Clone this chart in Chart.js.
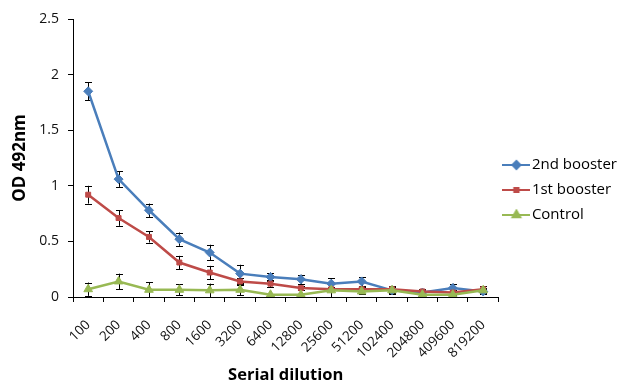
<!DOCTYPE html>
<html>
<head>
<meta charset="utf-8">
<script src="https://cdn.jsdelivr.net/npm/chart.js@4"></script>
<style>
    body { margin: 0; background: #fff; }
    #wrap { width: 627px; height: 385px; position: relative; }
</style>
</head>
<body>
<div id="wrap"><canvas id="odChart"></canvas></div>
<script>
// dilution categories
var dilutions = ['100', '200', '400', '800', '1600', '3200', '6400', '12800', '25600', '51200', '102400', '204800', '409600', '819200'];

// mean OD values
var secondBooster = [1.85, 1.06, 0.78, 0.52, 0.40, 0.21, 0.18, 0.16, 0.12, 0.14, 0.06, 0.04, 0.08, 0.05];
var firstBooster = [0.92, 0.71, 0.54, 0.31, 0.22, 0.14, 0.12, 0.08, 0.07, 0.07, 0.07, 0.05, 0.04, 0.07];
var control = [0.07, 0.14, 0.065, 0.065, 0.06, 0.065, 0.02, 0.02, 0.06, 0.05, 0.06, 0.02, 0.02, 0.06];

// error bar half widths
var secondErr = [0.08, 0.07, 0.06, 0.06, 0.07, 0.08, 0.04, 0.04, 0.05, 0.04, 0.03, 0.02, 0.04, 0.02];
var firstErr = [0.08, 0.07, 0.05, 0.06, 0.06, 0.03, 0.03, 0.02, 0.02, 0.02, 0.03, 0.02, 0.02, 0.03];
var controlErr = [0.06, 0.07, 0.07, 0.05, 0.06, 0.05, 0.01, 0.01, 0.06, 0.02, 0.03, 0.01, 0.01, 0.02];

var yTicks = [0, 0.5, 1, 1.5, 2, 2.5];

var FONT = "'Open Sans', sans-serif";

// small line+marker picture for the legend (Excel style)
function legendIcon(color, style, radius) {
    var c = document.createElement('canvas');
    c.width = 28;
    c.height = 12;
    var g = c.getContext('2d');
    g.strokeStyle = color;
    g.lineWidth = 2;
    g.beginPath();
    g.moveTo(0, 6);
    g.lineTo(28, 6);
    g.stroke();
    g.fillStyle = color;
    Chart.helpers.drawPoint(g, { pointStyle: style, radius: radius, borderWidth: 1 }, 14, 6);
    return c;
}

// draws the black error bars from the data arrays
var errorBars = {
    id: 'errorBars',
    beforeDatasetsDraw: function (chart) {
        var ctx = chart.ctx;
        var yScale = chart.scales.y;
        ctx.save();
        ctx.strokeStyle = '#000';
        ctx.lineWidth = 1;
        chart.data.datasets.forEach(function (ds, i) {
            var meta = chart.getDatasetMeta(i);
            meta.data.forEach(function (pt, j) {
                var v = ds.data[j];
                var e = ds.errors[j];
                var x = Math.round(pt.x) + 0.5;
                var top = yScale.getPixelForValue(v + e);
                var bot = yScale.getPixelForValue(Math.max(v - e, 0));
                ctx.beginPath();
                ctx.moveTo(x, top);
                ctx.lineTo(x, bot);
                ctx.moveTo(x - 3.5, Math.round(top) + 0.5);
                ctx.lineTo(x + 3.5, Math.round(top) + 0.5);
                ctx.moveTo(x - 3.5, Math.round(bot) + 0.5);
                ctx.lineTo(x + 3.5, Math.round(bot) + 0.5);
                ctx.stroke();
            });
        });
        ctx.restore();
    }
};

// legend sits a bit above the vertical middle, like the Excel original
var legendLift = {
    id: 'legendLift',
    afterLayout: function (chart) {
        if (chart.legend) {
            chart.legend.bottom -= 24;
            chart.legend.height -= 24;
        }
    }
};

var series = [
    { label: '2nd booster', data: secondBooster, errors: secondErr, color: '#4A7EBB', style: 'rectRot', r: 4.5, order: 3 },
    { label: '1st booster', data: firstBooster, errors: firstErr, color: '#BE4B48', style: 'rect', r: 3.5, order: 2 },
    { label: 'Control', data: control, errors: controlErr, color: '#98B954', style: 'triangle', r: 5, order: 1 }
];

var datasets = series.map(function (s) {
    return {
        label: s.label,
        data: s.data,
        errors: s.errors,
        borderColor: s.color,
        backgroundColor: s.color,
        borderWidth: 2.5,
        pointStyle: s.style,
        pointRadius: s.r,
        pointBorderWidth: 1,
        pointBackgroundColor: s.color,
        pointBorderColor: s.color,
        tension: 0,
        order: s.order,
        icon: legendIcon(s.color, s.style, s.r - 0.5)
    };
});

var ctx = document.getElementById('odChart').getContext('2d');
var odChart = new Chart(ctx, {
    type: 'line',
    data: { labels: dilutions, datasets: datasets },
    plugins: [errorBars, legendLift],
    options: {
        responsive: true,
        maintainAspectRatio: false,
        animation: false,
        layout: { padding: { top: 19, right: 0, bottom: 0, left: 0 } },
        plugins: {
            tooltip: { enabled: false },
            legend: {
                position: 'right',
                labels: {
                    usePointStyle: true,
                    pointStyleWidth: 16,
                    padding: 10,
                    color: '#000',
                    font: { family: FONT, size: 15 },
                    generateLabels: function (chart) {
                        return chart.data.datasets.map(function (ds, i) {
                            return {
                                text: ds.label,
                                pointStyle: ds.icon,
                                fillStyle: ds.borderColor,
                                strokeStyle: ds.borderColor,
                                lineWidth: 0,
                                hidden: false,
                                datasetIndex: i
                            };
                        });
                    }
                }
            }
        },
        scales: {
            x: {
                offset: true,
                grid: { offset: true, drawOnChartArea: false, drawTicks: true, tickLength: 5, color: '#000' },
                border: { display: true, color: '#000', width: 1 },
                ticks: {
                    minRotation: 45,
                    maxRotation: 45,
                    padding: 15,
                    color: '#111',
                    font: { family: FONT, size: 13.5 }
                },
                title: {
                    display: true,
                    text: 'Serial dilution',
                    color: '#000',
                    font: { family: FONT, size: 16.5, weight: 'bold' },
                    padding: { top: 0, bottom: 0 }
                },
                afterFit: function (scale) { scale.height = 88; }
            },
            y: {
                min: 0,
                max: 2.5,
                afterBuildTicks: function (scale) {
                    scale.ticks = yTicks.map(function (v) { return { value: v }; });
                },
                grid: { drawOnChartArea: false, drawTicks: true, tickLength: 5, color: '#000' },
                border: { display: true, color: '#000', width: 1 },
                ticks: {
                    padding: 9,
                    color: '#111',
                    font: { family: FONT, size: 14 },
                    callback: function (v) { return String(v); }
                },
                title: {
                    display: true,
                    text: 'OD 492nm',
                    color: '#000',
                    font: { family: FONT, size: 17, weight: 'bold' },
                    padding: { top: 10, bottom: 0 }
                },
                afterFit: function (scale) { scale.width = 73; }
            }
        }
    }
});
</script>
</body>
</html>
